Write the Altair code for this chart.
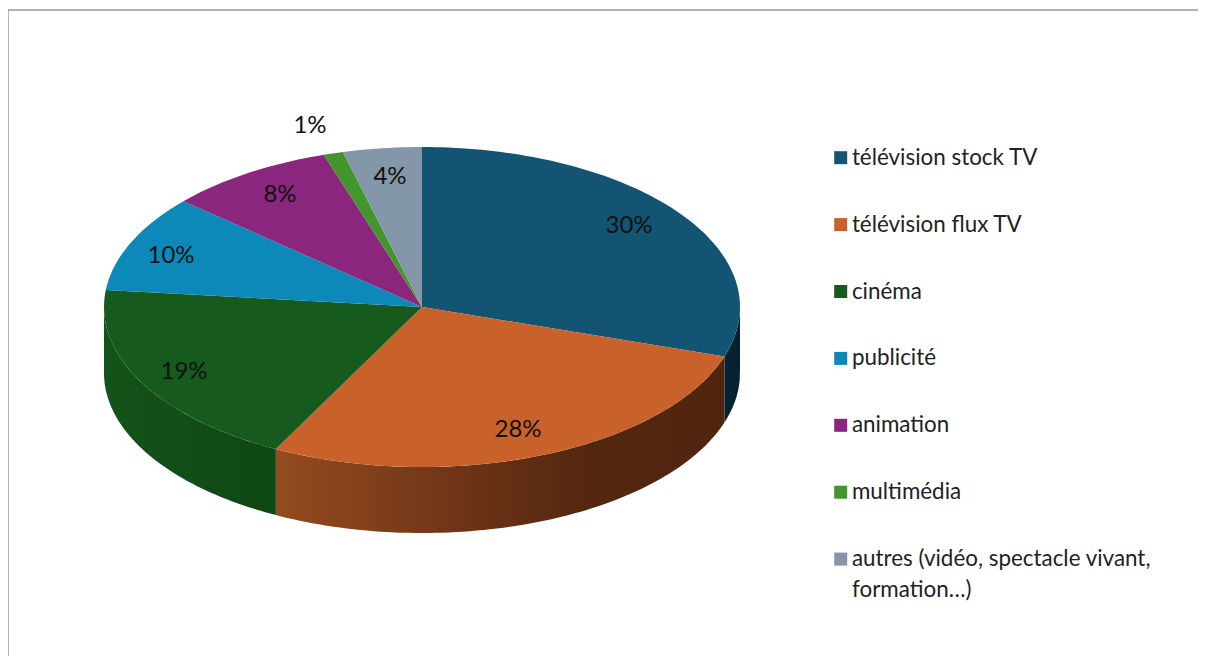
import math
import altair as alt
import pandas as pd

categories = ["télévision stock TV", "télévision flux TV", "cinéma", "publicité", "animation", "multimédia", "autres (vidéo, spectacle vivant,"]
values = [30.0, 27.6, 19.1, 9.8, 8.5, 1.0, 4.0]
labels = ["30%", "28%", "19%", "10%", "8%", "1%", "4%"]
colors = ["#135473", "#c8622a", "#165a1e", "#0c88b9", "#8a267e", "#43962c", "#8497a8"]
label_x = [629, 518, 184, 171, 280, 310, 390]
label_y = [226, 430, 372, 256, 195, 126, 177]

CX, CY, RX, RY, DEPTH = 422, 307, 318, 160, 66
W, H = 1190, 648
FONT = "Lato"
xs = alt.Scale(domain=[8, 8 + W], range=[0, W])
ys = alt.Scale(domain=[8, 8 + H], range=[0, H])


def pt(f):
    a = 2 * math.pi * f / 100
    return CX + RX * math.sin(a), CY - RY * math.cos(a)


wedges = []
start = 0.0
bounds = []
for cat, v in zip(categories, values):
    end = start + v
    bounds.append((start, end))
    i = 0
    wedges.append(dict(cat=cat, i=i, x=CX, y=CY))
    n = max(3, int(v * 3))
    for k in range(n + 1):
        i += 1
        x, y = pt(start + v * k / n)
        wedges.append(dict(cat=cat, i=i, x=x, y=y))
    start = end

X = alt.X("x:Q", scale=xs, axis=None)
Y = alt.Y("y:Q", scale=ys, axis=None)


def wall(f0, f1, stops):
    rows = []
    n = 80
    for k in range(n + 1):
        x, y = pt(f0 + (f1 - f0) * k / n)
        rows.append(dict(x=x, y=y + DEPTH, y2=y))
    grad = alt.Gradient(gradient="linear", x1=0, y1=0, x2=1, y2=0,
                        stops=[alt.GradientStop(offset=o, color=c) for o, c in stops])
    return alt.Chart(pd.DataFrame(rows)).mark_area(color=grad).encode(X, Y, y2="y2:Q")


walls = [
    wall(bounds[0][0] + 30 - 5.5, bounds[0][1], [(0, "#05242f"), (1, "#04222f")]),
    wall(bounds[1][0], bounds[1][1], [(0, "#944b1f"), (0.45, "#6b3216"), (0.7, "#53270f"), (1, "#50240f")]),
    wall(bounds[2][0], 75.0, [(0, "#135419"), (0.5, "#114d18"), (1, "#0e4815")]),
]

top = alt.Chart(pd.DataFrame(wedges)).mark_line(filled=True, strokeWidth=0).encode(
    X, Y,
    order="i:Q",
    fill=alt.Fill("cat:N", scale=alt.Scale(domain=categories, range=colors), legend=alt.Legend(
        title=None, orient="none", legendX=821.5, legendY=138.5, symbolType="square", symbolSize=169,
        symbolStrokeWidth=0, rowPadding=43.9, labelFont=FONT, labelFontSize=22.4, labelColor="#222222",
        labelLimit=400, labelOffset=0, columns=1)),
    detail="cat:N",
)

pct = alt.Chart(pd.DataFrame(dict(x=label_x, y=label_y, t=labels))).mark_text(
    font=FONT, fontSize=24, color="#111111").encode(X, Y, text="t:N")

extra = alt.Chart(pd.DataFrame(dict(x=[852], y=[590], t=["formation…)"]))).mark_text(
    font=FONT, fontSize=22.4, color="#222222", align="left").encode(X, Y, text="t:N")

frame_top = alt.Chart(pd.DataFrame(dict(x=[8], x2=[1198], y=[10]))).mark_rule(color="#9a9a9a", strokeWidth=1.5).encode(
    X, x2="x2:Q", y=alt.Y("y:Q", scale=ys, axis=None))
frame_left = alt.Chart(pd.DataFrame(dict(y=[10], y2=[656], x=[8]))).mark_rule(color="#9a9a9a", strokeWidth=1.5).encode(
    x=alt.X("x:Q", scale=xs, axis=None), y=alt.Y("y:Q", scale=ys, axis=None), y2="y2:Q")

chart = alt.layer(frame_top, frame_left, *walls, top, pct, extra).properties(
    width=W, height=H, padding=0, autosize=alt.AutoSizeParams(type="none"),
).configure_view(stroke=None)

chart.save("out.html", embed_options={"renderer": "svg", "actions": False})
